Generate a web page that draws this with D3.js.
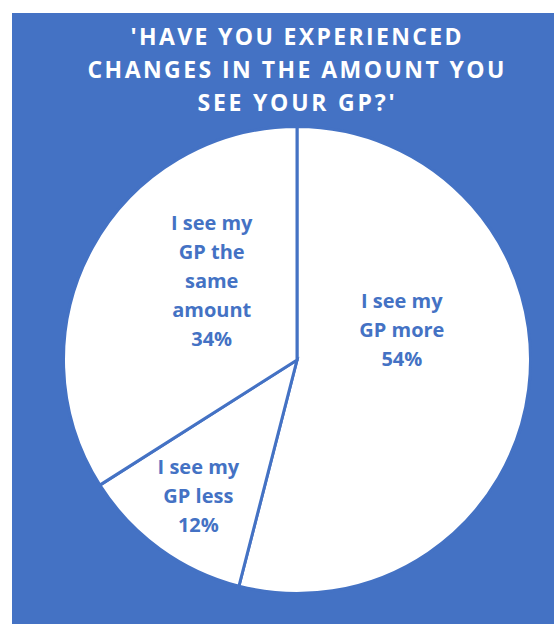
<!DOCTYPE html>
<html>
<head>
<meta charset="utf-8">
<script src="https://cdn.jsdelivr.net/npm/d3@7"></script>
<style>
  html, body { margin: 0; padding: 0; background: #ffffff; }
  svg { display: block; }
</style>
</head>
<body>
<div id="chart"></div>
<script>
// Survey responses: change in how often people see their GP
const categories = ["I see my GP more", "I see my GP less", "I see my GP the same amount"];
const percentages = [54, 12, 34];
const labelLines = [
  ["I see my", "GP more", "54%"],
  ["I see my", "GP less", "12%"],
  ["I see my", "GP the", "same", "amount", "34%"]
];
const titleLines = ["'HAVE YOU EXPERIENCED", "CHANGES IN THE AMOUNT YOU", "SEE YOUR GP?'"];

const W = 554, H = 624;
const blue = "#4472C4";
const font = "'Open Sans', 'Liberation Sans', sans-serif";

const svg = d3.select("#chart").append("svg")
  .attr("width", W).attr("height", H);

// chart area panel
svg.append("rect")
  .attr("x", 12).attr("y", 13)
  .attr("width", W - 12).attr("height", H - 13)
  .attr("fill", blue);

// title
const titleWidths = [331, 417, 197];
const title = svg.append("g");
titleLines.forEach((t, i) => {
  title.append("text")
    .attr("x", 296)
    .attr("y", 45 + i * 33)
    .attr("text-anchor", "middle")
    .attr("font-family", font)
    .attr("font-weight", 700)
    .attr("font-size", 23)
    .attr("fill", "#ffffff")
    .attr("textLength", titleWidths[i])
    .attr("lengthAdjust", "spacing")
    .text(t);
});

// pie
const cx = 297, cy = 360, r = 233.5;
const data = categories.map((c, i) => ({ category: c, value: percentages[i], lines: labelLines[i] }));

const pie = d3.pie().value(d => d.value).sort(null);
const arc = d3.arc().innerRadius(0).outerRadius(r);
const arcs = pie(data);

const g = svg.append("g").attr("transform", `translate(${cx},${cy})`);

g.selectAll("path.slice")
  .data(arcs)
  .join("path")
  .attr("class", "slice")
  .attr("d", arc)
  .attr("fill", "#ffffff")
  .attr("stroke", blue)
  .attr("stroke-width", 3)
  .attr("stroke-linejoin", "miter");

// data labels: anchored at each slice's centroid, then nudged into place
const labelNudge = [[-11, -38], [-30, 49], [17, -16]];
const lineH = 29;
arcs.forEach((a, i) => {
  const [x0, y0] = arc.centroid(a);
  const x = x0 + labelNudge[i][0];
  const y = y0 + labelNudge[i][1];
  const lines = a.data.lines;
  const t = g.append("text")
    .attr("text-anchor", "middle")
    .attr("font-family", font)
    .attr("font-weight", 700)
    .attr("font-size", 20)
    .attr("fill", blue);
  lines.forEach((ln, j) => {
    t.append("tspan")
      .attr("x", x)
      .attr("y", y + (j - (lines.length - 1) / 2) * lineH)
      .text(ln);
  });
});
</script>
</body>
</html>
